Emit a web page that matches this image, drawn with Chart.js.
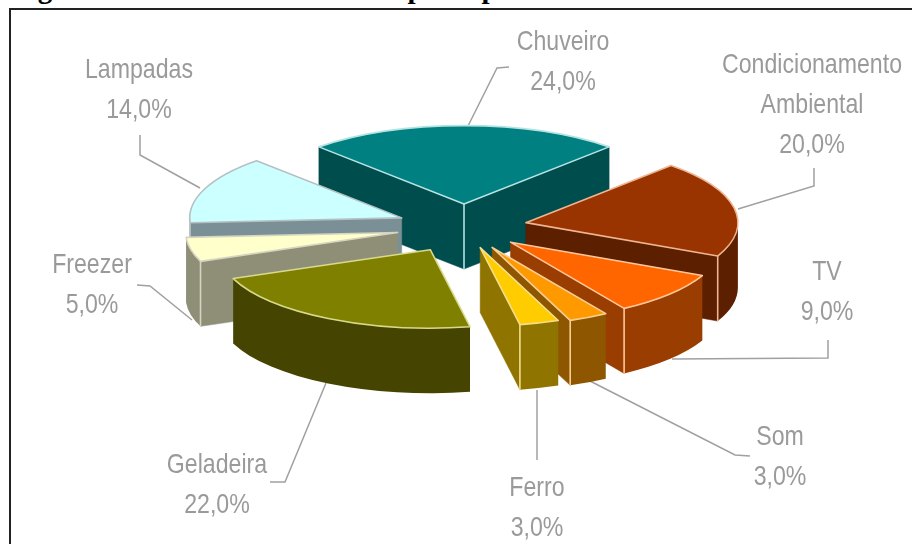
<!DOCTYPE html>
<html>
<head>
<meta charset="utf-8">
<title>Consumo elétrico</title>
<script src="https://cdn.jsdelivr.net/npm/chart.js@4"></script>
<style>
    html, body { margin: 0; padding: 0; background: #fff; overflow: hidden; }
    #page { position: relative; width: 912px; height: 544px; overflow: hidden; }
    #heading {
        position: absolute; left: 12px; top: -28px; white-space: nowrap;
        font: bold 29px "Liberation Serif", serif; color: #000; line-height: 33px;
    }
    #frame {
        position: absolute; left: 9px; top: 8px; right: -4px; bottom: -4px;
        border-top: 2px solid #222; border-left: 2px solid #222;
    }
    #chart { position: absolute; left: 0; top: 0; }
</style>
</head>
<body>
<div id="page">
    <div id="heading">Figura 1: Consumo elétrico dos principais usos finais de clientes</div>
    <div id="frame"></div>
    <canvas id="chart" width="912" height="544"></canvas>
</div>
<script>
const categories = ['Chuveiro', 'Condicionamento Ambiental', 'TV', 'Som', 'Ferro', 'Geladeira', 'Freezer', 'Lampadas'];
const shares = [24, 20, 9, 3, 3, 22, 5, 14];

const topColors = ['#008080', '#993300', '#ff6600', '#ff9900', '#ffcc00', '#808000', '#ffffcc', '#ccffff'];
const wallColors = ['#004d4d', '#5c1f00', '#993d00', '#8f5600', '#8f7400', '#454400', '#8f8f78', '#7a9096'];
const edgeColors = ['#b5e3e3', '#efb592', '#ffc79c', '#f7cf95', '#f5dd8c', '#d9d98c', '#d6d6c0', '#b4c0c2'];

// Distance each slice is pulled from the centre
const explodeBy = [62, 63, 62, 62, 58, 70, 68, 67];

// Label anchors (centre x, first line y) and leader polylines, one per slice
const labelX = [563, 812, 827, 780, 537, 217, 92, 139];
const labelY = [42, 65, 272, 437, 488, 465, 265, 70];
const leaderPaths = [
    [[468, 126], [497, 68], [509, 67]],
    [[738, 209], [814, 186], [814, 168]],
    [[672, 359], [828, 358], [828, 340]],
    [[590, 381], [735, 455], [750, 456]],
    [[537, 390], [537, 460]],
    [[326, 383], [285, 482], [270, 482]],
    [[192, 320], [150, 286], [137, 285]],
    [[200, 188], [140, 155], [140, 135]]
];

const TILT = 0.37;      // vertical squash of the pie disc
const DEPTH = 65;       // height of the extruded slices
const LABEL_FONT = '28px "Liberation Sans", sans-serif';
const LABEL_SQUEEZE = 0.826;   // narrow lettering
const LINE_HEIGHT = 40;

function percentText(value) {
    return value.toFixed(1).replace('.', ',') + '%';
}

// Slice geometry on screen, from the arc element Chart.js laid out
function sliceShape(arc, index) {
    const mid = (arc.startAngle + arc.endAngle) / 2;
    return {
        arc: arc,
        index: index,
        mid: mid,
        cx: arc.x + Math.cos(mid) * explodeBy[index],
        cy: arc.y + Math.sin(mid) * explodeBy[index] * TILT,
        r: arc.outerRadius,
        start: arc.startAngle,
        end: arc.endAngle
    };
}

function rim(s, angle, drop) {
    return [s.cx + Math.cos(angle) * s.r, s.cy + Math.sin(angle) * s.r * TILT + drop];
}

function fillQuad(ctx, a, b, color) {
    ctx.fillStyle = color;
    ctx.beginPath();
    ctx.moveTo(a[0], a[1]);
    ctx.lineTo(b[0], b[1]);
    ctx.lineTo(b[0], b[1] + DEPTH);
    ctx.lineTo(a[0], a[1] + DEPTH);
    ctx.closePath();
    ctx.fill();
    // seal the hairline against neighbouring faces
    ctx.strokeStyle = color;
    ctx.lineWidth = 0.5;
    ctx.stroke();
}

function drawWalls(ctx, s) {
    const color = wallColors[s.index];
    const tip = [s.cx, s.cy];
    const startVisible = Math.cos(s.start) < 0;
    const endVisible = Math.cos(s.end) > 0;

    if (startVisible) fillQuad(ctx, tip, rim(s, s.start, 0), color);
    if (endVisible) fillQuad(ctx, tip, rim(s, s.end, 0), color);

    // Outer curved wall, only the part facing the viewer
    const from = Math.max(s.start, 0);
    const to = Math.min(s.end, Math.PI);
    if (to > from) {
        ctx.fillStyle = color;
        ctx.beginPath();
        ctx.ellipse(s.cx, s.cy, s.r, s.r * TILT, 0, from, to);
        ctx.ellipse(s.cx, s.cy + DEPTH, s.r, s.r * TILT, 0, to, from, true);
        ctx.closePath();
        ctx.fill();
    }
}

function drawEdges(ctx, s) {
    ctx.strokeStyle = edgeColors[s.index];
    ctx.lineWidth = 1.6;
    ctx.lineJoin = 'round';

    const first = rim(s, s.start, 0);
    ctx.beginPath();
    ctx.moveTo(s.cx, s.cy);
    ctx.lineTo(first[0], first[1]);
    ctx.ellipse(s.cx, s.cy, s.r, s.r * TILT, 0, s.start, s.end);
    ctx.closePath();
    ctx.stroke();

    // Vertical creases where two visible faces meet
    const startVisible = Math.cos(s.start) < 0;
    const endVisible = Math.cos(s.end) > 0;
    const curveVisible = Math.min(s.end, Math.PI) > Math.max(s.start, 0);
    const creases = [];
    if (startVisible && endVisible) creases.push([s.cx, s.cy]);
    if (startVisible && curveVisible) creases.push(rim(s, s.start, 0));
    if (endVisible && curveVisible) creases.push(rim(s, s.end, 0));
    creases.forEach(p => {
        ctx.beginPath();
        ctx.moveTo(p[0], p[1]);
        ctx.lineTo(p[0], p[1] + DEPTH);
        ctx.stroke();
    });
}

// Draws each pie arc as an exploded, tilted block, back slices first
const extrudedPie = {
    id: 'extrudedPie',
    beforeDatasetDraw(chart, args) {
        const ctx = chart.ctx;
        const shapes = chart.getDatasetMeta(args.index).data.map(sliceShape);
        shapes.sort((a, b) => Math.sin(a.mid) - Math.sin(b.mid));

        shapes.forEach(s => {
            drawWalls(ctx, s);

            ctx.save();
            ctx.translate(s.cx, s.cy);
            ctx.scale(1, TILT);
            ctx.translate(-s.arc.x, -s.arc.y);
            s.arc.draw(ctx);
            ctx.restore();

            drawEdges(ctx, s);
        });
        return false;
    }
};

// Category names with percentages and their leader lines
const sliceLabels = {
    id: 'sliceLabels',
    beforeDatasetsDraw(chart) {
        const ctx = chart.ctx;
        ctx.save();
        ctx.strokeStyle = '#a0a0a0';
        ctx.lineWidth = 1.5;
        leaderPaths.forEach(path => {
            ctx.beginPath();
            path.forEach((p, i) => i ? ctx.lineTo(p[0], p[1]) : ctx.moveTo(p[0], p[1]));
            ctx.stroke();
        });

        ctx.fillStyle = '#9a9a9a';
        ctx.font = LABEL_FONT;
        ctx.textAlign = 'center';
        ctx.textBaseline = 'middle';
        categories.forEach((name, i) => {
            const lines = name.split(' ').concat(percentText(shares[i]));
            lines.forEach((line, n) => {
                ctx.save();
                ctx.translate(labelX[i], labelY[i] + n * LINE_HEIGHT);
                ctx.scale(LABEL_SQUEEZE, 1);
                ctx.fillText(line, 0, 0);
                ctx.restore();
            });
        });
        ctx.restore();
    }
};

new Chart(document.getElementById('chart').getContext('2d'), {
    type: 'pie',
    data: {
        labels: categories,
        datasets: [{
            data: shares,
            backgroundColor: topColors,
            borderWidth: 0
        }]
    },
    options: {
        responsive: false,
        animation: false,
        radius: 212,
        rotation: -43.2,
        layout: { padding: { left: 16, right: 0, top: 0, bottom: 90 } },
        events: [],
        plugins: {
            legend: { display: false },
            tooltip: { enabled: false }
        }
    },
    plugins: [sliceLabels, extrudedPie]
});
</script>
</body>
</html>
